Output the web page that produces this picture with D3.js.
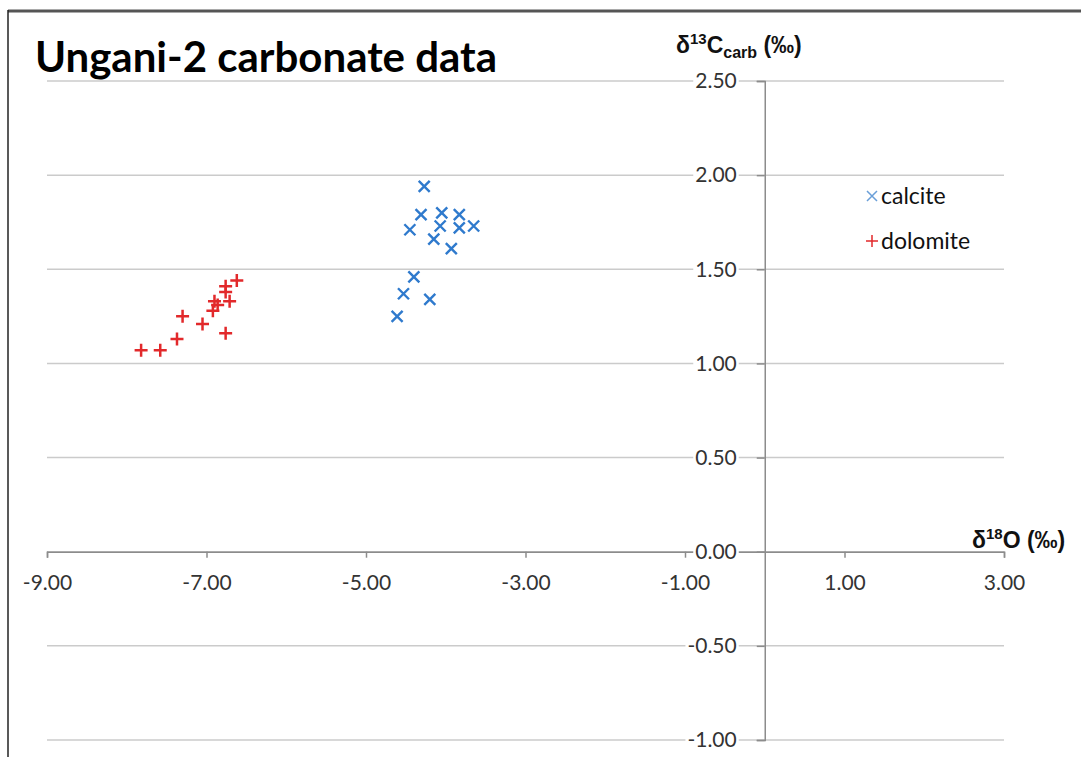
<!DOCTYPE html>
<html>
<head>
<meta charset="utf-8">
<script src="https://cdn.jsdelivr.net/npm/d3@7"></script>
<style>
  body { margin: 0; background: #fff; }
  svg { display: block; }
  .tick-label { font-family: Lato, "Open Sans", sans-serif; font-size: 21px; fill: #333; }
</style>
</head>
<body>
<svg id="chart" width="1081" height="757"></svg>
<script>
// data: δ18O (x) and δ13C carb (y)
const calciteX = [-4.27, -4.31, -4.45, -4.05, -4.07, -3.83, -3.83, -3.65, -4.15, -3.93, -4.40, -4.53, -4.20, -4.61];
const calciteY = [1.94, 1.79, 1.71, 1.80, 1.73, 1.79, 1.72, 1.73, 1.66, 1.61, 1.46, 1.37, 1.34, 1.25];
const dolomiteX = [-6.62, -6.76, -6.76, -6.90, -6.71, -6.86, -6.92, -7.30, -7.05, -6.76, -7.37, -7.82, -7.58];
const dolomiteY = [1.44, 1.41, 1.38, 1.33, 1.33, 1.31, 1.28, 1.25, 1.21, 1.16, 1.13, 1.07, 1.07];
const xTicks = [-9, -7, -5, -3, -1, 1, 3];
const yTicks = [-1, -0.5, 0, 0.5, 1, 1.5, 2, 2.5];
const seriesNames = ["calcite", "dolomite"];

const svg = d3.select("#chart");
const W = 1081, H = 757;

const x = d3.scaleLinear().domain([-9, 3]).range([47, 1004]);
const y = d3.scaleLinear().domain([-1, 2.5]).range([740, 81]);
const fmt = d => d.toFixed(2); // plain hyphen minus like the original

// frame (scanned page edges)
svg.append("line").attr("x1", 8).attr("x2", W).attr("y1", 11).attr("y2", 11)
  .attr("stroke", "#555").attr("stroke-width", 3);
svg.append("line").attr("x1", 8).attr("x2", 8).attr("y1", 10).attr("y2", H)
  .attr("stroke", "#222").attr("stroke-width", 1.5);

// horizontal gridlines
svg.append("g").selectAll("line")
  .data(yTicks)
  .join("line")
  .attr("x1", x(-9)).attr("x2", x(3))
  .attr("y1", d => y(d)).attr("y2", d => y(d))
  .attr("stroke", "#cbcbcb").attr("stroke-width", 1.5);

// title
svg.append("text")
  .attr("x", 35).attr("y", 72)
  .style("font-family", "Lato, 'Open Sans', sans-serif")
  .style("font-weight", "bold")
  .style("font-size", "42px")
  .attr("fill", "#000")
  .text("Ungani-2 carbonate data");

// x axis
const xAxis = svg.append("g")
  .attr("transform", `translate(0,${y(0)})`)
  .call(d3.axisBottom(x).tickValues(xTicks).tickSize(6).tickPadding(17).tickFormat(fmt));
xAxis.select(".domain").attr("stroke", "#8c8c8c").attr("stroke-width", 1.5);
xAxis.selectAll(".tick line").attr("stroke", "#8c8c8c").attr("stroke-width", 1.5);
xAxis.selectAll(".tick text").attr("class", "tick-label").attr("fill", null);

// y axis with white-backed labels
const yAxis = svg.append("g")
  .attr("transform", `translate(${x(0)},0)`)
  .call(d3.axisLeft(y).tickValues(yTicks).tickSize(8).tickPadding(20).tickFormat(fmt));
yAxis.select(".domain").attr("stroke", "#8c8c8c").attr("stroke-width", 1.5);
yAxis.selectAll(".tick line").attr("stroke", "#8c8c8c").attr("stroke-width", 1.5);
yAxis.selectAll(".tick text").attr("class", "tick-label").attr("fill", null);
yAxis.selectAll(".tick").each(function () {
  const t = d3.select(this).select("text");
  const b = t.node().getBBox();
  d3.select(this).insert("rect", "text")
    .attr("x", b.x - 2).attr("y", b.y + 2)
    .attr("width", b.width + 4).attr("height", b.height - 4)
    .attr("fill", "#fff");
});

// axis titles
const yTitle = svg.append("text")
  .attr("x", 676).attr("y", 53)
  .style("font-family", "'Liberation Sans', Arial, sans-serif")
  .style("font-weight", "bold").style("font-size", "23px").attr("fill", "#111");
yTitle.append("tspan").text("δ");
yTitle.append("tspan").attr("dy", -9).style("font-size", "15px").text("13");
yTitle.append("tspan").attr("dy", 9).text("C");
yTitle.append("tspan").attr("dy", 5).style("font-size", "16px").text("carb");
yTitle.append("tspan").attr("dy", -5).text(" (‰)");

const xTitle = svg.append("text")
  .attr("x", 972).attr("y", 548)
  .style("font-family", "'Liberation Sans', Arial, sans-serif")
  .style("font-weight", "bold").style("font-size", "23px").attr("fill", "#111");
xTitle.append("tspan").text("δ");
xTitle.append("tspan").attr("dy", -9).style("font-size", "15px").text("18");
xTitle.append("tspan").attr("dy", 9).text("O (‰)");

// markers
const blue = "#2f7acd", red = "#e2292b";
const crossPath = s => `M${-s},${-s}L${s},${s}M${-s},${s}L${s},${-s}`;
const plusPath = s => `M${-s},0L${s},0M0,${-s}L0,${s}`;

const calcite = calciteX.map((v, i) => ({ x: v, y: calciteY[i] }));
const dolomite = dolomiteX.map((v, i) => ({ x: v, y: dolomiteY[i] }));

svg.append("g").selectAll("path")
  .data(dolomite)
  .join("path")
  .attr("transform", d => `translate(${x(d.x)},${y(d.y)})`)
  .attr("d", plusPath(6.5))
  .attr("stroke", red).attr("stroke-width", 2.5).attr("fill", "none");

svg.append("g").selectAll("path")
  .data(calcite)
  .join("path")
  .attr("transform", d => `translate(${x(d.x)},${y(d.y)})`)
  .attr("d", crossPath(5.5))
  .attr("stroke", blue).attr("stroke-width", 2.4).attr("fill", "none");

// legend
const legend = svg.append("g").selectAll("g")
  .data(seriesNames)
  .join("g")
  .attr("transform", (d, i) => `translate(872,${196 + i * 45})`);
legend.append("path")
  .attr("d", d => d === "calcite" ? crossPath(5) : plusPath(6))
  .attr("stroke", d => d === "calcite" ? "#6a9fd8" : red)
  .attr("stroke-width", 1.5).attr("fill", "none");
legend.append("text")
  .attr("x", 9).attr("dy", "0.35em")
  .style("font-family", "Lato, 'Open Sans', sans-serif")
  .style("font-size", "23px").attr("fill", "#111")
  .text(d => d);
</script>
</body>
</html>
